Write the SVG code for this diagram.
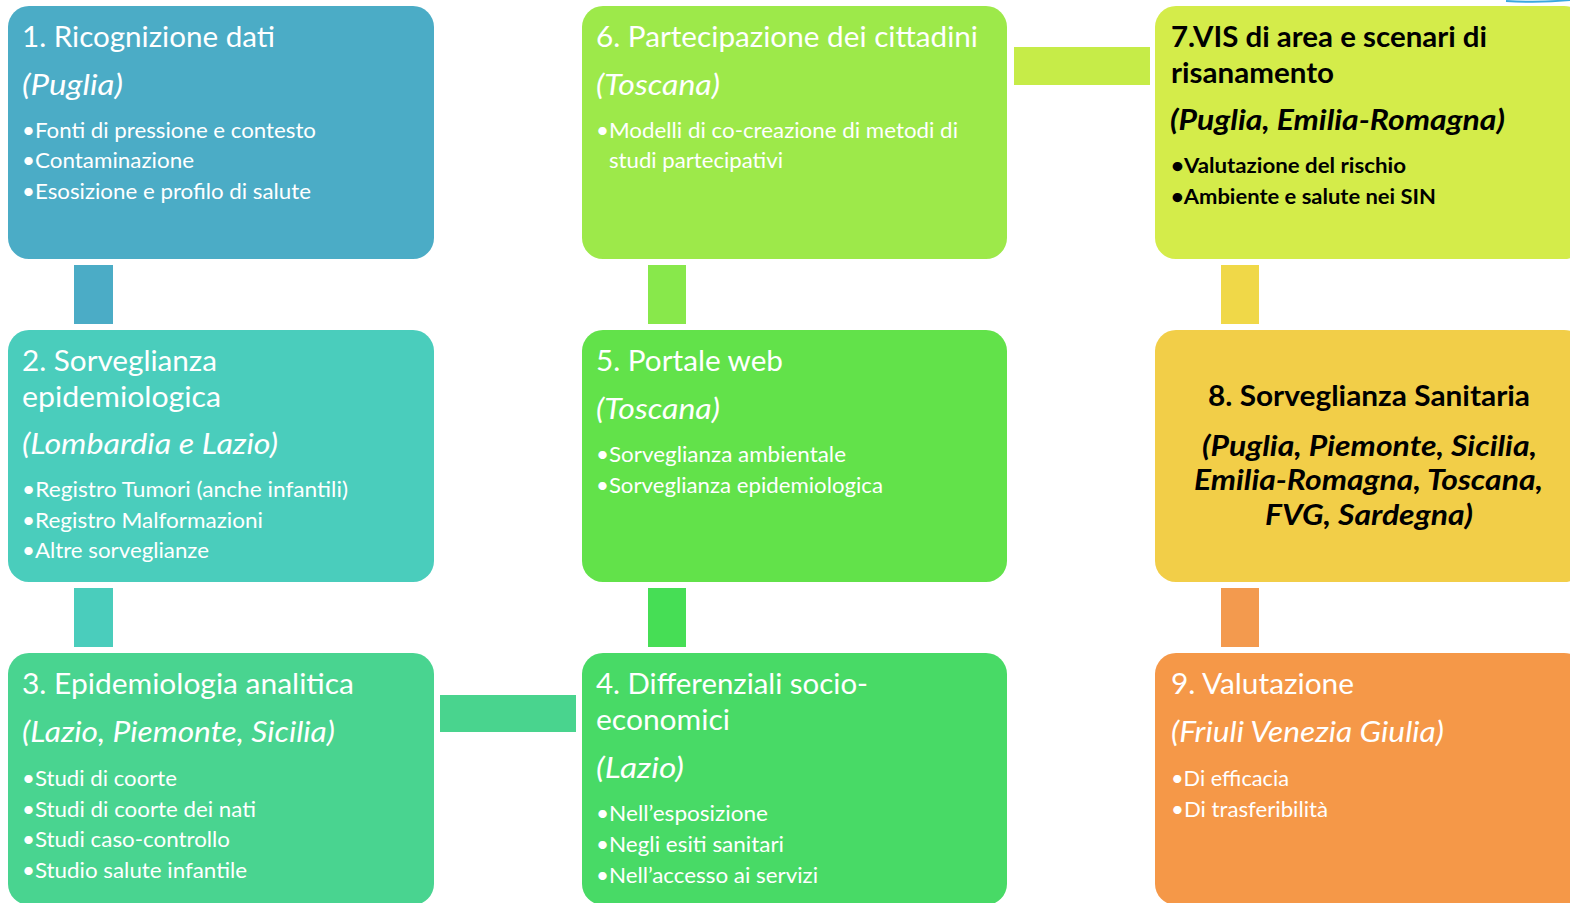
<svg xmlns="http://www.w3.org/2000/svg" width="1570" height="903" viewBox="0 0 1570 903">
<style>
text{font-family:Lato,"Liberation Sans",sans-serif}
.t{font-size:29px;fill:#fff}
.i{font-size:29px;font-style:italic;fill:#fff}
.b{font-size:21px;fill:#fff}
.tk{font-size:29px;font-weight:bold;fill:#000}
.ik{font-size:29px;font-weight:bold;font-style:italic;fill:#000}
.bk{font-size:21px;font-weight:bold;fill:#000}
</style>
<rect width="1570" height="903" fill="#fff"/>
<path d="M1506,1 Q1540,3 1570,0" fill="none" stroke="#3aa8e0" stroke-width="2"/>
<g id="connectors">
<rect x="74" y="265" width="39" height="59" fill="#4BACC6"/>
<rect x="74" y="588" width="39" height="59" fill="#4ACDBC"/>
<rect x="440" y="695" width="136" height="37" fill="#49D48E"/>
<rect x="648" y="588" width="38" height="59" fill="#46DE55"/>
<rect x="648" y="265" width="38" height="59" fill="#88E84B"/>
<rect x="1014" y="47" width="136" height="38" fill="#C6EC48"/>
<rect x="1221" y="265" width="38" height="59" fill="#F0D848"/>
<rect x="1221" y="588" width="38" height="59" fill="#F39A4E"/>
</g>
<g id="n1">
<rect x="8" y="6" width="426" height="253" rx="21" fill="#4BACC6"/>
<text class="t" x="22" y="47" textLength="253" lengthAdjust="spacingAndGlyphs">1. Ricognizione dati</text>
<text class="i" x="22" y="95" textLength="101" lengthAdjust="spacingAndGlyphs">(Puglia)</text>
<text class="b" x="22" y="138" textLength="294" lengthAdjust="spacingAndGlyphs">•Fonti di pressione e contesto</text>
<text class="b" x="22" y="168" textLength="172" lengthAdjust="spacingAndGlyphs">•Contaminazione</text>
<text class="b" x="22" y="199" textLength="289" lengthAdjust="spacingAndGlyphs">•Esosizione e profilo di salute</text>
</g>
<g id="n2">
<rect x="8" y="330" width="426" height="252" rx="21" fill="#4ACDBC"/>
<text class="t" x="22" y="371" textLength="195" lengthAdjust="spacingAndGlyphs">2. Sorveglianza</text>
<text class="t" x="22" y="407" textLength="199" lengthAdjust="spacingAndGlyphs">epidemiologica</text>
<text class="i" x="22" y="454" textLength="256" lengthAdjust="spacingAndGlyphs">(Lombardia e Lazio)</text>
<text class="b" x="22" y="497" textLength="326" lengthAdjust="spacingAndGlyphs">•Registro Tumori (anche infantili)</text>
<text class="b" x="22" y="528" textLength="241" lengthAdjust="spacingAndGlyphs">•Registro Malformazioni</text>
<text class="b" x="22" y="558" textLength="187" lengthAdjust="spacingAndGlyphs">•Altre sorveglianze</text>
</g>
<g id="n3">
<rect x="8" y="653" width="426" height="252" rx="21" fill="#49D490"/>
<text class="t" x="22" y="694" textLength="332" lengthAdjust="spacingAndGlyphs">3. Epidemiologia analitica</text>
<text class="i" x="22" y="742" textLength="313" lengthAdjust="spacingAndGlyphs">(Lazio, Piemonte, Sicilia)</text>
<text class="b" x="22" y="786" textLength="155" lengthAdjust="spacingAndGlyphs">•Studi di coorte</text>
<text class="b" x="22" y="817" textLength="234" lengthAdjust="spacingAndGlyphs">•Studi di coorte dei nati</text>
<text class="b" x="22" y="847" textLength="208" lengthAdjust="spacingAndGlyphs">•Studi caso-controllo</text>
<text class="b" x="22" y="878" textLength="225" lengthAdjust="spacingAndGlyphs">•Studio salute infantile</text>
</g>
<g id="n4">
<rect x="582" y="653" width="425" height="252" rx="21" fill="#48DA66"/>
<text class="t" x="596" y="694" textLength="272" lengthAdjust="spacingAndGlyphs">4. Differenziali socio-</text>
<text class="t" x="596" y="730" textLength="134" lengthAdjust="spacingAndGlyphs">economici</text>
<text class="i" x="596" y="778" textLength="88" lengthAdjust="spacingAndGlyphs">(Lazio)</text>
<text class="b" x="596" y="821" textLength="172" lengthAdjust="spacingAndGlyphs">•Nell’esposizione</text>
<text class="b" x="596" y="852" textLength="188" lengthAdjust="spacingAndGlyphs">•Negli esiti sanitari</text>
<text class="b" x="596" y="883" textLength="222" lengthAdjust="spacingAndGlyphs">•Nell’accesso ai servizi</text>
</g>
<g id="n5">
<rect x="582" y="330" width="425" height="252" rx="21" fill="#62E24A"/>
<text class="t" x="596" y="371" textLength="187" lengthAdjust="spacingAndGlyphs">5. Portale web</text>
<text class="i" x="596" y="419" textLength="124" lengthAdjust="spacingAndGlyphs">(Toscana)</text>
<text class="b" x="596" y="462" textLength="250" lengthAdjust="spacingAndGlyphs">•Sorveglianza ambientale</text>
<text class="b" x="596" y="493" textLength="287" lengthAdjust="spacingAndGlyphs">•Sorveglianza epidemiologica</text>
</g>
<g id="n6">
<rect x="582" y="6" width="425" height="253" rx="21" fill="#9DE94A"/>
<text class="t" x="596" y="47" textLength="382" lengthAdjust="spacingAndGlyphs">6. Partecipazione dei cittadini</text>
<text class="i" x="596" y="95" textLength="124" lengthAdjust="spacingAndGlyphs">(Toscana)</text>
<text class="b" x="596" y="138" textLength="362" lengthAdjust="spacingAndGlyphs">•Modelli di co-creazione di metodi di</text>
<text class="b" x="609" y="168" textLength="174" lengthAdjust="spacingAndGlyphs">studi partecipativi</text>
</g>
<g id="n7">
<rect x="1155" y="6" width="430" height="253" rx="21" fill="#D4EC4A"/>
<text class="tk" x="1171" y="47" textLength="316" lengthAdjust="spacingAndGlyphs">7.VIS di area e scenari di</text>
<text class="tk" x="1171" y="83" textLength="163" lengthAdjust="spacingAndGlyphs">risanamento</text>
<text class="ik" x="1170" y="130" textLength="335" lengthAdjust="spacingAndGlyphs">(Puglia, Emilia-Romagna)</text>
<text class="bk" x="1171" y="173" textLength="235" lengthAdjust="spacingAndGlyphs">•Valutazione del rischio</text>
<text class="bk" x="1171" y="204" textLength="265" lengthAdjust="spacingAndGlyphs">•Ambiente e salute nei SIN</text>
</g>
<g id="n8">
<rect x="1155" y="330" width="430" height="252" rx="21" fill="#F2CE48"/>
<text class="tk" x="1208" y="406" textLength="322" lengthAdjust="spacingAndGlyphs">8. Sorveglianza Sanitaria</text>
<text class="ik" x="1202" y="456" textLength="335" lengthAdjust="spacingAndGlyphs">(Puglia, Piemonte, Sicilia,</text>
<text class="ik" x="1194" y="490" textLength="349" lengthAdjust="spacingAndGlyphs">Emilia-Romagna, Toscana,</text>
<text class="ik" x="1265" y="525" textLength="208" lengthAdjust="spacingAndGlyphs">FVG, Sardegna)</text>
</g>
<g id="n9">
<rect x="1155" y="653" width="430" height="252" rx="21" fill="#F59848"/>
<text class="t" x="1171" y="694" textLength="183" lengthAdjust="spacingAndGlyphs">9. Valutazione</text>
<text class="i" x="1171" y="742" textLength="273" lengthAdjust="spacingAndGlyphs">(Friuli Venezia Giulia)</text>
<text class="b" x="1171" y="786" textLength="118" lengthAdjust="spacingAndGlyphs">•Di efficacia</text>
<text class="b" x="1171" y="817" textLength="157" lengthAdjust="spacingAndGlyphs">•Di trasferibilità</text>
</g>
</svg>
